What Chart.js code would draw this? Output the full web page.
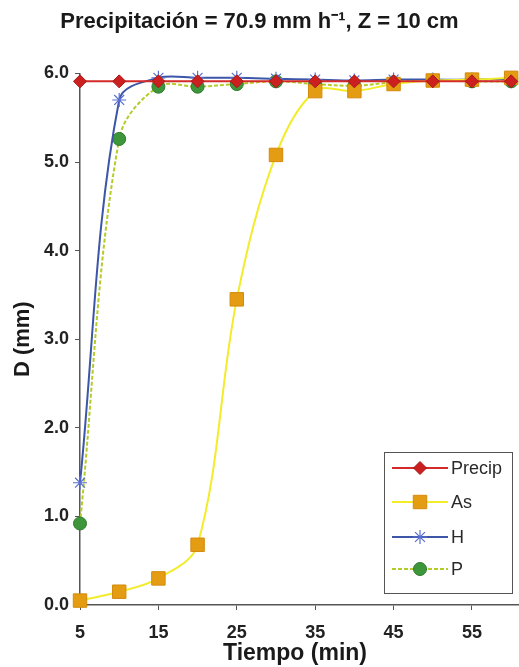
<!DOCTYPE html>
<html>
<head>
<meta charset="utf-8">
<script src="https://cdn.jsdelivr.net/npm/chart.js@4/dist/chart.umd.min.js"></script>
<style>
  html, body { margin: 0; padding: 0; background: #fff; }
  #wrap { width: 519px; height: 667px; }
</style>
</head>
<body>
<div id="wrap"><canvas id="chart"></canvas></div>
<script>
// time axis (min)
const tiempo = [5, 10, 15, 20, 25, 30, 35, 40, 45, 50, 55, 60];
// series (mm)
const precip = [5.91, 5.91, 5.91, 5.91, 5.91, 5.91, 5.91, 5.91, 5.91, 5.91, 5.91, 5.91];
const asVals = [0.05, 0.15, 0.30, 0.68, 3.45, 5.08, 5.80, 5.80, 5.88, 5.92, 5.93, 5.95];
const hVals = [1.38, 5.70, 5.95, 5.95, 5.95, 5.94, 5.93, 5.92, 5.93, 5.93, 5.93, 5.94];
const pVals = [0.92, 5.26, 5.85, 5.85, 5.88, 5.91, 5.88, 5.86, 5.90, 5.92, 5.91, 5.91];
// tick labels
const xTicks = [5, 15, 25, 35, 45, 55];
const yTicks = [0, 1, 2, 3, 4, 5, 6];

const toPoints = vals => vals.map((v, i) => ({ x: tiempo[i], y: v }));

const datasets = [
    {
        label: 'Precip',
        data: toPoints(precip),
        borderColor: '#d42a2a',
        borderWidth: 2,
        pointStyle: 'rectRot',
        pointRadius: 6.5,
        pointBackgroundColor: '#cc2020',
        pointBorderColor: '#a81818',
        pointBorderWidth: 1,
    },
    {
        label: 'As',
        data: toPoints(asVals),
        borderColor: '#f2ec2a',
        borderWidth: 2,
        pointStyle: 'rect',
        pointRadius: 9.5,
        pointBackgroundColor: '#e49c12',
        pointBorderColor: '#d48a0c',
        pointBorderWidth: 1,
    },
    {
        label: 'H',
        data: toPoints(hVals),
        borderColor: '#3d56a8',
        borderWidth: 2,
        pointStyle: 'star',
        pointRadius: 7,
        pointBackgroundColor: '#5a70d0',
        pointBorderColor: '#5a70d0',
        pointBorderWidth: 1.2,
    },
    {
        label: 'P',
        data: toPoints(pVals),
        borderColor: '#b4cc2a',
        borderWidth: 2,
        borderDash: [4, 2],
        pointStyle: 'circle',
        pointRadius: 6.5,
        pointBackgroundColor: '#3d963a',
        pointBorderColor: '#2f7a2c',
        pointBorderWidth: 1,
    },
];
datasets.forEach(d => { d.tension = 0.35; d.clip = false; d.fill = false; });

// legend box drawn inside the plot, plus the x axis title
const extras = {
    id: 'extras',
    afterDraw(chart) {
        const ctx = chart.ctx;
        ctx.save();
        // x axis title
        ctx.fillStyle = '#1a1a1a';
        ctx.font = 'bold 23px "Liberation Sans", Arial, sans-serif';
        ctx.textAlign = 'center';
        ctx.textBaseline = 'middle';
        ctx.fillText('Tiempo (min)', 295, 654);

        // legend
        const bx = 384, by = 452, bw = 128, bh = 141;
        ctx.fillStyle = '#fff';
        ctx.fillRect(bx, by, bw, bh);
        ctx.strokeStyle = '#555';
        ctx.lineWidth = 1;
        ctx.strokeRect(bx + 0.5, by + 0.5, bw, bh);
        const rows = [468, 502, 537, 569];
        chart.data.datasets.forEach((ds, i) => {
            const y = rows[i];
            ctx.strokeStyle = ds.borderColor;
            ctx.lineWidth = ds.borderWidth;
            ctx.setLineDash(ds.borderDash || []);
            ctx.beginPath();
            ctx.moveTo(392, y);
            ctx.lineTo(448, y);
            ctx.stroke();
            ctx.setLineDash([]);
            ctx.fillStyle = ds.pointBackgroundColor;
            ctx.strokeStyle = ds.pointBorderColor;
            ctx.lineWidth = ds.pointBorderWidth;
            Chart.helpers.drawPoint(ctx, {
                pointStyle: ds.pointStyle,
                radius: ds.pointRadius,
                borderWidth: ds.pointBorderWidth,
                rotation: 0
            }, 420, y);
            ctx.fillStyle = '#2a2a2a';
            ctx.font = '18px "Liberation Sans", Arial, sans-serif';
            ctx.textAlign = 'left';
            ctx.textBaseline = 'middle';
            ctx.fillText(ds.label, 451, y + 1);
        });
        ctx.restore();
    }
};

const ctx = document.getElementById('chart').getContext('2d');
new Chart(ctx, {
    type: 'line',
    data: { datasets: datasets },
    plugins: [extras],
    options: {
        responsive: true,
        maintainAspectRatio: false,
        animation: false,
        layout: { autoPadding: false, padding: { left: 0, right: 0, top: 0, bottom: 0 } },
        plugins: {
            legend: { display: false },
            tooltip: { enabled: false },
            title: {
                display: true,
                text: 'Precipitación = 70.9 mm h\u207B\u00B9, Z = 10 cm',
                color: '#1a1a1a',
                font: { family: '"Liberation Sans", Arial, sans-serif', size: 22, weight: 'bold' },
                padding: { top: 9, bottom: 38 },
            }
        },
        scales: {
            x: {
                type: 'linear',
                min: 5,
                max: 61,
                border: { display: true, color: '#555', width: 1.5 },
                grid: { display: true, drawOnChartArea: false, drawTicks: true, tickLength: 5, color: '#555' },
                ticks: {
                    color: '#222',
                    padding: 12,
                    maxRotation: 0,
                    font: { family: '"Liberation Sans", Arial, sans-serif', size: 18, weight: 'bold' },
                },
                afterBuildTicks: scale => { scale.ticks = xTicks.map(v => ({ value: v })); },
                afterFit: scale => { scale.height = 62; },
            },
            y: {
                type: 'linear',
                min: 0,
                max: 6,
                border: { display: true, color: '#555', width: 1.5 },
                grid: { display: true, drawOnChartArea: false, drawTicks: true, tickLength: 5, color: '#555' },
                ticks: {
                    color: '#222',
                    padding: 6,
                    font: { family: '"Liberation Sans", Arial, sans-serif', size: 18, weight: 'bold' },
                    callback: v => v.toFixed(1),
                },
                afterBuildTicks: scale => { scale.ticks = yTicks.map(v => ({ value: v })); },
                afterFit: scale => { scale.width = 80; },
                title: {
                    display: true,
                    text: 'D (mm)',
                    color: '#1a1a1a',
                    font: { family: '"Liberation Sans", Arial, sans-serif', size: 22, weight: 'bold' },
                    padding: { top: 10, bottom: 0 },
                },
            }
        }
    }
});
</script>
</body>
</html>
